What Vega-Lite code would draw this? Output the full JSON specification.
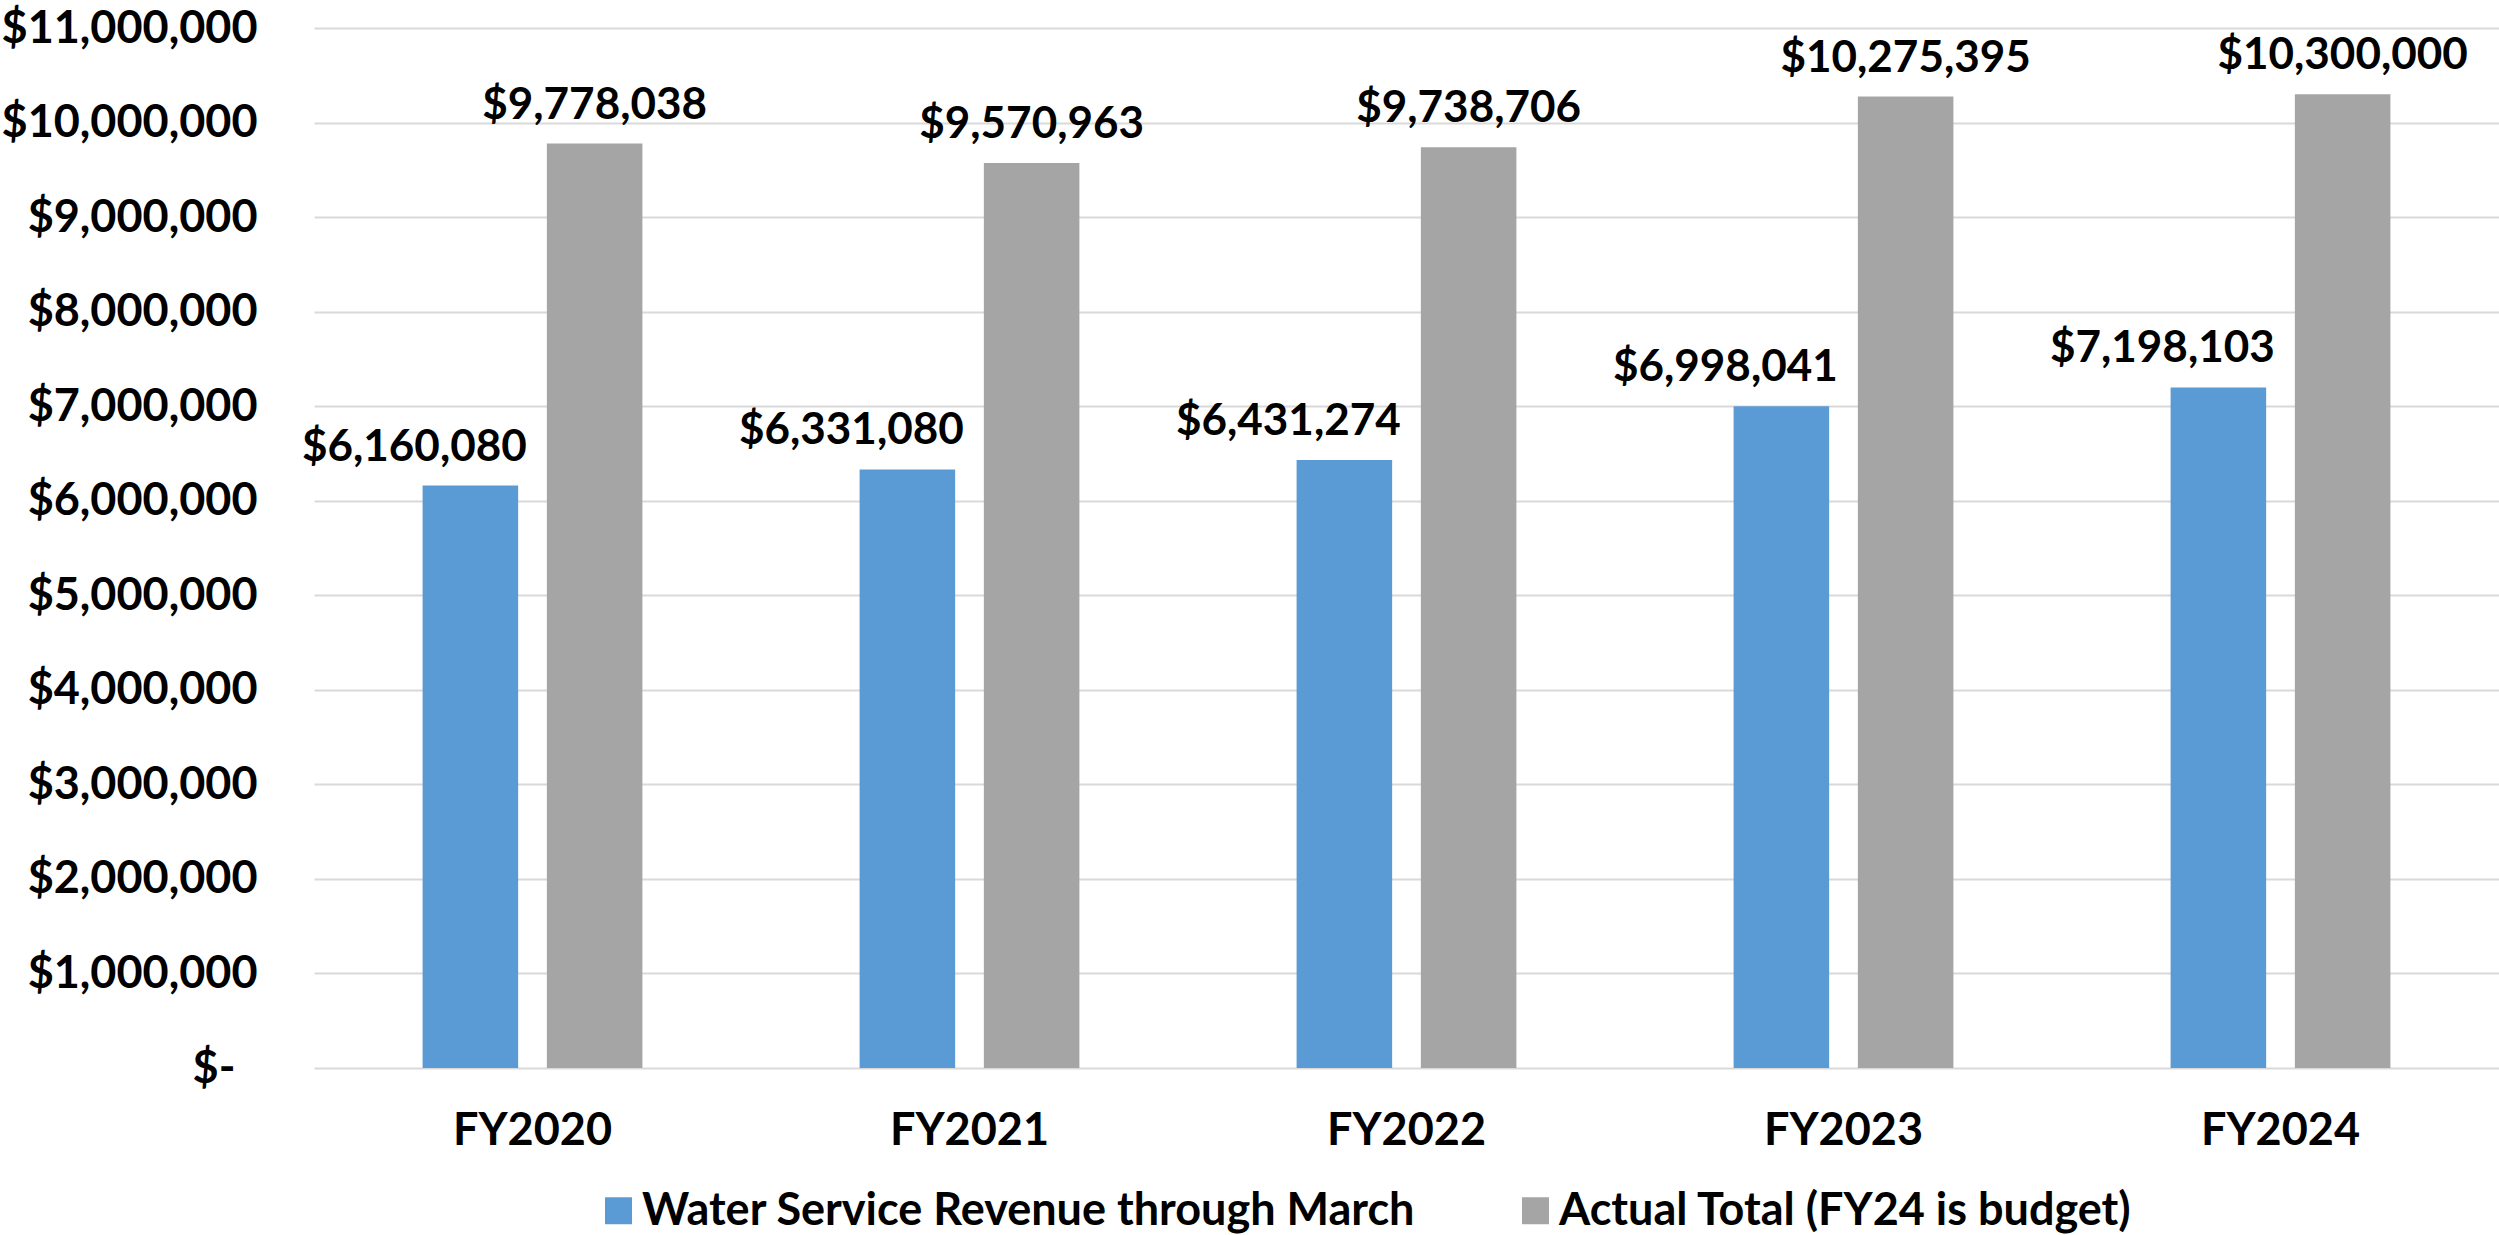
{
  "$schema": "https://vega.github.io/schema/vega-lite/v6.json",
  "autosize": "none",
  "padding": {"left": 314, "top": 28, "right": 0, "bottom": 167},
  "width": 2185,
  "height": 1040,
  "background": "#ffffff",
  "config": {
    "view": {"stroke": null},
    "font": "Lato",
    "axis": {"labelFont": "Lato", "labelFontWeight": "bold", "labelFontSize": 45, "labelColor": "#000000", "labelLimit": 2000},
    "legend": {"labelFont": "Lato", "labelFontWeight": "bold", "labelFontSize": 45, "labelColor": "#000000"}
  },
  "data": {
    "values": [
      {"year": "FY2020", "series": "Water Service Revenue through March", "value": 6160080},
      {"year": "FY2020", "series": "Actual Total (FY24 is budget)", "value": 9778038},
      {"year": "FY2021", "series": "Water Service Revenue through March", "value": 6331080},
      {"year": "FY2021", "series": "Actual Total (FY24 is budget)", "value": 9570963},
      {"year": "FY2022", "series": "Water Service Revenue through March", "value": 6431274},
      {"year": "FY2022", "series": "Actual Total (FY24 is budget)", "value": 9738706},
      {"year": "FY2023", "series": "Water Service Revenue through March", "value": 6998041},
      {"year": "FY2023", "series": "Actual Total (FY24 is budget)", "value": 10275395},
      {"year": "FY2024", "series": "Water Service Revenue through March", "value": 7198103},
      {"year": "FY2024", "series": "Actual Total (FY24 is budget)", "value": 10300000}
    ]
  },
  "encoding": {
    "x": {
      "field": "year", "type": "nominal", "sort": null,
      "scale": {"paddingInner": 0.497, "paddingOuter": 0.2485},
      "axis": {"title": null, "labelAngle": 0, "domain": false, "ticks": false, "tickSize": 0, "labelPadding": 40, "grid": false}
    },
    "xOffset": {
      "field": "series", "type": "nominal",
      "scale": {"domain": ["Water Service Revenue through March", "Actual Total (FY24 is budget)"], "paddingInner": 0.231, "paddingOuter": 0}
    },
    "y": {
      "field": "value", "type": "quantitative",
      "scale": {"domain": [0, 11000000], "nice": false, "zero": true},
      "axis": {
        "title": null, "domain": false, "ticks": false, "tickSize": 0,
        "values": [0, 1000000, 2000000, 3000000, 4000000, 5000000, 6000000, 7000000, 8000000, 9000000, 10000000, 11000000],
        "labelExpr": "datum.value == 0 ? '$-' : format(datum.value, '$,.0f')",
        "labelPadding": {"condition": {"test": "datum.value == 0", "value": 79}, "value": 57},
        "grid": true, "gridColor": "#D9D9D9", "gridWidth": 2
      }
    }
  },
  "layer": [
    {
      "mark": {"type": "bar"},
      "encoding": {
        "color": {
          "field": "series", "type": "nominal",
          "scale": {"domain": ["Water Service Revenue through March", "Actual Total (FY24 is budget)"], "range": ["#5B9BD5", "#A5A5A5"]},
          "legend": {
            "title": null, "orient": "none", "direction": "horizontal",
            "legendX": 282, "legendY": 1160, "padding": 0,
            "symbolType": "square", "symbolSize": 729, "symbolStrokeWidth": 0,
            "labelOffset": 1, "columnPadding": 97, "labelLimit": 2000
          }
        }
      }
    },
    {
      "transform": [{"filter": "datum.series == 'Water Service Revenue through March'"}],
      "mark": {"type": "text", "font": "Lato", "fontWeight": "bold", "fontSize": 44, "color": "#000000", "baseline": "alphabetic", "align": "center", "dx": -56, "dy": -25},
      "encoding": {"text": {"field": "value", "type": "quantitative", "format": "$,.0f"}}
    },
    {
      "transform": [{"filter": "datum.series == 'Actual Total (FY24 is budget)'"}],
      "mark": {"type": "text", "font": "Lato", "fontWeight": "bold", "fontSize": 44, "color": "#000000", "baseline": "alphabetic", "align": "center", "dy": -25},
      "encoding": {"text": {"field": "value", "type": "quantitative", "format": "$,.0f"}}
    }
  ]
}
